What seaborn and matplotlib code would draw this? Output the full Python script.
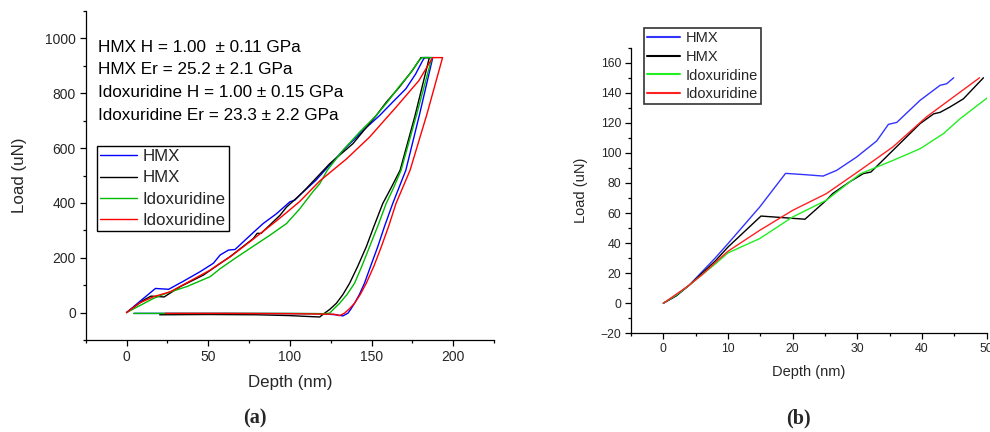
import numpy as np
import pandas as pd
import matplotlib
matplotlib.use("Agg")
import matplotlib.pyplot as plt
from matplotlib.ticker import MultipleLocator
import seaborn as sns

# ---------------- Panel (a): full load-unload curves ----------------
hmx1_depth_a = [0, 8, 17.7, 25.8, 35, 45, 53.2, 57.3, 62.4, 66.4, 77.6, 83.7, 91.9, 100, 103, 106, 116, 126,
                134.6, 140, 145, 155, 163, 171, 177, 181.3, 182.5, 187.5,
                179.5, 171, 163, 158, 153.8, 149.5, 145.7, 142.5, 139.6, 137.5, 135.6, 132.5, 128, 120, 60, 4.5]
hmx1_load_a = [0, 40, 88, 85, 115, 149, 180, 210, 228, 230, 292, 325, 361, 404, 410, 428, 483, 549,
               604, 635, 665, 719, 768, 816, 870, 919, 930, 930,
               725, 519, 398, 315, 240, 170, 107, 65, 34, 14, -2, -12, -8, -4, -3, -3]

hmx2_depth_a = [0, 10.6, 15, 20.7, 23, 33, 47.1, 63.4, 77.6, 80, 82.4, 94, 98, 106, 110, 124.4, 138.6,
                152.9, 159, 167, 175, 180.3, 185.4,
                176.5, 167.5, 162, 156.9, 151.5, 146.8, 141.5, 136.6, 132.5, 128.5, 124.5, 121.3, 118.3,
                114, 100, 80, 50, 20.3]
hmx2_load_a = [0, 46, 60, 58, 57, 95, 137, 204, 270, 289, 289, 355, 385, 428, 452, 543, 616,
               719, 767, 822, 883, 930, 930,
               715, 519, 455, 398, 315, 240, 168, 107, 66, 34, 12, -2, -16,
               -15, -11, -8, -7, -8]

idox1_depth_a = [0, 16.6, 25, 37, 51.2, 57.3, 67, 77.6, 88, 98, 106, 114, 118.3, 123, 132.5, 143, 152.9, 160,
                 167, 174, 179, 181, 187,
                 177.5, 168.1, 163.5, 159, 153.8, 148.8, 144, 139.6, 135, 130.5, 127, 124.4, 121, 100, 60, 4.5]
idox1_load_a = [0, 52, 72, 95, 131, 160, 200, 242, 283, 325, 378, 440, 470, 520, 592, 660, 719, 770,
                825, 875, 919, 930, 930,
                720, 519, 455, 398, 315, 240, 168, 107, 66, 34, 14, -2, -4, -3, -3, -3]

idox2_depth_a = [0, 8, 16.6, 26.8, 51.2, 57.3, 63.4, 77.6, 91.9, 98, 106, 118.3, 134.6, 148.8, 165, 179,
                 187.4, 193.5,
                 184, 173.6, 165, 160.5, 156, 151.5, 146.8, 143, 139.6, 136.5, 133.5, 130.5, 127, 100, 60, 23.8]
idox2_load_a = [0, 35, 58, 76, 155, 180, 203, 268, 335, 365, 405, 480, 560, 640, 749, 846,
                930, 930,
                725, 519, 398, 315, 240, 170, 107, 65, 34, 14, -2, -11, -6, -4, -3, -3]

# ---------------- Panel (b): initial loading ----------------
hmx1_depth_b = [0, 2, 4, 6, 8, 10, 14.9, 18.9, 22, 24.7, 26.8, 29.9, 33, 34.8, 36.1, 39.7, 42.8, 43.8, 44.9]
hmx1_load_b = [0, 5, 12, 21, 30, 39.7, 64, 86.4, 85.5, 84.6, 88.4, 97.3, 108, 119, 120.3, 135, 145, 146, 150]

hmx2_depth_b = [0, 2, 4, 6, 8, 10, 15.1, 21.9, 25.2, 26.2, 28.8, 30.9, 32.1, 35.5, 39.7, 41.8, 42.8,
                44.3, 46.4, 49.5]
hmx2_load_b = [0, 5, 12, 20, 28, 37.4, 58, 55.9, 68.5, 73, 80.7, 86.2, 87.3, 101.7, 119.5, 126, 127,
               130.5, 136, 150]

idox1_depth_b = [0, 2, 4, 6, 8, 10, 14.9, 20, 25.2, 30.4, 35.5, 39.7, 43.3, 45.9, 50.2]
idox1_load_b = [0, 5.5, 12, 19, 26, 33.5, 43, 57.4, 68.5, 86, 95, 102.8, 112.8, 122.8, 137]

idox2_depth_b = [0, 2, 4, 6, 8, 10, 14.9, 20, 25.2, 30.4, 35.5, 40.7, 45.9, 48.9]
idox2_load_b = [0, 6, 12, 19, 27, 34.6, 48.5, 61.8, 72.9, 88.4, 104, 124, 140.5, 150]

labels = ["HMX", "HMX", "Idoxuridine", "Idoxuridine"]
annot_lines = ["HMX H = 1.00  \u00b1 0.11 GPa",
               "HMX Er = 25.2 \u00b1 2.1 GPa",
               "Idoxuridine H = 1.00 \u00b1 0.15 GPa",
               "Idoxuridine Er = 23.3 \u00b1 2.2 GPa"]

sns.set_theme(style="ticks")
plt.rcParams['font.family'] = ['Liberation Sans', 'DejaVu Sans']
plt.rcParams['xtick.direction'] = 'out'
plt.rcParams['ytick.direction'] = 'out'

fig = plt.figure(figsize=(9.9, 4.32), dpi=100)
W, H = 990, 432
def axrect(l, t, r, b):
    return [l / W, 1 - b / H, (r - l) / W, (b - t) / H]

axa = fig.add_axes(axrect(85.7, 11, 494, 340))
axb = fig.add_axes(axrect(631, 47.7, 986.7, 333.3))

cols_a = ["#0000FF", "#000000", "#00BB00", "#FF0000"]
cols_b = ["#3333FF", "#000000", "#22EE22", "#FF2222"]

series_a = [(hmx1_depth_a, hmx1_load_a), (hmx2_depth_a, hmx2_load_a),
            (idox1_depth_a, idox1_load_a), (idox2_depth_a, idox2_load_a)]
series_b = [(hmx1_depth_b, hmx1_load_b), (hmx2_depth_b, hmx2_load_b),
            (idox1_depth_b, idox1_load_b), (idox2_depth_b, idox2_load_b)]

for ax, series, cols in [(axa, series_a, cols_a), (axb, series_b, cols_b)]:
    for i, ((d, l), c) in enumerate(zip(series, cols)):
        df = pd.DataFrame({"Depth": d, "Load": l})
        sns.lineplot(data=df, x="Depth", y="Load", sort=False, estimator=None,
                     color=c, lw=1.0, ax=ax, label=labels[i])

def style(ax, xlim, ylim, xmaj, xmin, ymaj, ymin, tfs, lfs):
    ax.set_xlim(*xlim)
    ax.set_ylim(*ylim)
    ax.xaxis.set_major_locator(MultipleLocator(xmaj))
    ax.xaxis.set_minor_locator(MultipleLocator(xmin))
    ax.yaxis.set_major_locator(MultipleLocator(ymaj))
    ax.yaxis.set_minor_locator(MultipleLocator(ymin))
    ax.tick_params(which='major', length=4, width=0.9, labelsize=tfs, color='black', pad=3)
    ax.tick_params(which='minor', length=2.2, width=0.9, color='black')
    for s in ['top', 'right']:
        ax.spines[s].set_visible(False)
    for s in ['left', 'bottom']:
        ax.spines[s].set_color('black')
        ax.spines[s].set_linewidth(0.9)
    ax.set_xlabel("Depth (nm)", fontsize=lfs)
    ax.set_ylabel("Load (uN)", fontsize=lfs)

style(axa, (-25, 225), (-100, 1100), 50, 25, 200, 100, 10, 12.2)
style(axb, (-5, 50), (-20, 170), 10, 5, 20, 10, 8.8, 10.5)
axa.xaxis.labelpad = 8
axa.yaxis.labelpad = 13
axb.xaxis.labelpad = 7
axb.yaxis.labelpad = 9

for k, line in enumerate(annot_lines):
    axa.text(0.030, 0.89 - k * 0.069, line, transform=axa.transAxes, fontsize=12.3,
             ha='left', va='center', color='black')

lega = axa.legend(loc='upper left', bbox_to_anchor=(97 / W, 1 - 146 / H),
                  bbox_transform=fig.transFigure, fontsize=12.2, frameon=True, fancybox=False,
                  edgecolor='black', framealpha=1, borderaxespad=0, borderpad=0.2,
                  labelspacing=0.36, handlelength=2.15, handletextpad=0.35)
lega.get_frame().set_linewidth(1.0)

legb = axb.legend(loc='upper left', bbox_to_anchor=(644 / W, 1 - 28 / H),
                  bbox_transform=fig.transFigure, fontsize=10.5, frameon=True, fancybox=False,
                  edgecolor='#333333', framealpha=1, borderaxespad=0, borderpad=0.2,
                  labelspacing=0.33, handlelength=2.3, handletextpad=0.35)
legb.get_frame().set_linewidth(1.2)
for lh in legb.get_lines():
    lh.set_linewidth(1.5)

fig.text(255 / W, 1 - 418 / H, "(a)", fontsize=14.5, fontweight='bold', ha='center', va='center',
         family=['Liberation Serif', 'DejaVu Serif'])
fig.text(798 / W, 1 - 418 / H, "(b)", fontsize=14.5, fontweight='bold', ha='center', va='center',
         family=['Liberation Serif', 'DejaVu Serif'])

fig.savefig("out.png", dpi=100)
